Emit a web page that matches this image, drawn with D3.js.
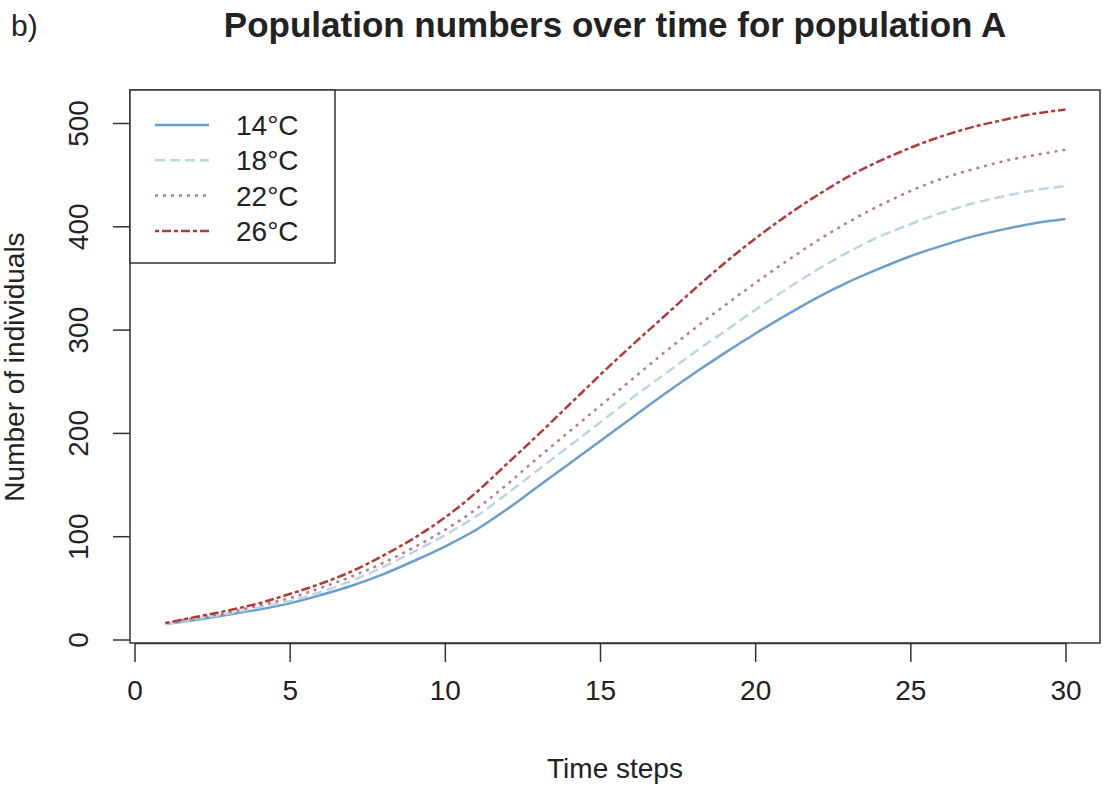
<!DOCTYPE html>
<html>
<head>
<meta charset="utf-8">
<title>Population numbers over time for population A</title>
<script src="https://d3js.org/d3.v7.min.js"></script>
<style>
  body { margin: 0; background: #fff; }
  svg text { font-family: "Liberation Sans", Arial, sans-serif; fill: #222; }
</style>
</head>
<body>
<div id="chart"></div>

<script>

// data
var timeSteps = [1, 2, 3, 4, 5, 6, 7, 8, 9, 10, 11, 12, 13, 14, 15,
                 16, 17, 18, 19, 20, 21, 22, 23, 24, 25, 26, 27, 28, 29, 30];

var pop14 = [15, 19, 24, 29, 35, 43, 52, 63, 76, 90, 106, 126, 148, 170, 192,
             214, 236, 257, 277, 296, 314, 331, 346, 359, 371, 381, 390, 397, 403, 407];
var pop18 = [15, 20, 25, 31, 37, 46, 57, 70, 85, 101, 119, 141, 164, 187, 210,
             233, 255, 277, 298, 319, 339, 358, 375, 390, 402, 413, 422, 429, 435, 439];
var pop22 = [16, 21, 26, 33, 40, 50, 61, 74, 89, 106, 126, 150, 176, 201, 226,
             251, 276, 300, 323, 345, 366, 386, 404, 420, 434, 446, 455, 463, 469, 474];
var pop26 = [16, 22, 28, 35, 44, 54, 66, 81, 98, 118, 142, 170, 198, 227, 256,
             284, 311, 338, 364, 388, 410, 430, 448, 463, 476, 487, 496, 503, 509, 513];

var seriesNames = ["14°C", "18°C", "22°C", "26°C"];
var seriesColors = ["#6a9ecb", "#bcd6df", "#b47f84", "#b23a3a"];
var seriesDash = ["none", "10,5", "3,5", "4,3,9,3"];

var xTicks = [0, 5, 10, 15, 20, 25, 30];
var yTicks = [0, 100, 200, 300, 400, 500];

var width = 1108;
var height = 799;

// plot box (R style)
var box = {left: 130, right: 1100, top: 90, bottom: 643};

var svg = d3.select("#chart")
	.append("svg")
		.attr("width", width)
		.attr("height", height);

var x = d3.scaleLinear()
	.domain([0, 30])
	.range([134.5, 1065.5]);

var y = d3.scaleLinear()
	.domain([0, 500])
	.range([639.5, 123]);

var series = [pop14, pop18, pop22, pop26].map(function(vals, i) {
	return {
		name: seriesNames[i],
		color: seriesColors[i],
		dash: seriesDash[i],
		values: timeSteps.map(function(t, j) { return {t: t, v: vals[j]}; })
	};
});

var line = d3.line()
	.curve(d3.curveMonotoneX)
	.x(function(d) { return x(d.t); })
	.y(function(d) { return y(d.v); });

svg.selectAll(".series")
	.data(series)
	.enter()
	.append("path")
		.attr("class", "series")
		.attr("d", function(d) { return line(d.values); })
		.attr("fill", "none")
		.attr("stroke", function(d) { return d.color; })
		.attr("stroke-width", 2.5)
		.attr("stroke-dasharray", function(d) { return d.dash; });

// axes
var xAxis = svg.append("g")
	.attr("transform", "translate(0," + box.bottom + ")")
	.call(d3.axisBottom(x).tickValues(xTicks).tickSize(19).tickSizeOuter(0).tickPadding(18));

xAxis.selectAll("text").style("font-size", "28px");

var yAxis = svg.append("g")
	.attr("transform", "translate(" + box.left + ",0)")
	.call(d3.axisLeft(y).tickValues(yTicks).tickSize(17).tickSizeOuter(0));

yAxis.select(".domain").remove();
yAxis.selectAll("text")
	.attr("transform", "rotate(-90)")
	.attr("x", 0)
	.attr("y", -(box.left - 88))
	.attr("dy", 0)
	.attr("text-anchor", "middle")
	.style("font-size", "28px");

svg.selectAll(".tick line, .domain")
	.attr("stroke", "#333")
	.attr("stroke-width", 1.5);

// box
svg.append("rect")
	.attr("x", box.left)
	.attr("y", box.top)
	.attr("width", box.right - box.left)
	.attr("height", box.bottom - box.top)
	.attr("fill", "none")
	.attr("stroke", "#333")
	.attr("stroke-width", 1.5);

// legend
var legend = svg.append("g");

legend.append("rect")
	.attr("x", box.left)
	.attr("y", box.top)
	.attr("width", 205)
	.attr("height", 173)
	.attr("fill", "#fff")
	.attr("stroke", "#333")
	.attr("stroke-width", 1.5);

var legendRows = legend.selectAll(".row")
	.data(series)
	.enter()
	.append("g")
		.attr("class", "row")
		.attr("transform", function(d, i) { return "translate(0," + (125 + i * 35.3) + ")"; });

legendRows.append("line")
	.attr("x1", 155)
	.attr("x2", 209)
	.attr("stroke", function(d) { return d.color; })
	.attr("stroke-width", 2.5)
	.attr("stroke-dasharray", function(d) { return d.dash; });

legendRows.append("text")
	.text(function(d) { return d.name; })
	.attr("x", 236)
	.attr("y", 10)
	.style("font-size", "28px");

// titles
svg.append("text")
	.text("Population numbers over time for population A")
	.attr("x", 615)
	.attr("y", 37)
	.attr("text-anchor", "middle")
	.style("font-size", "35px")
	.style("font-weight", "bold");

svg.append("text")
	.text("b)")
	.attr("x", 11)
	.attr("y", 36)
	.style("font-size", "30px");

svg.append("text")
	.text("Time steps")
	.attr("x", 615)
	.attr("y", 778)
	.attr("text-anchor", "middle")
	.style("font-size", "28px");

svg.append("text")
	.text("Number of individuals")
	.attr("transform", "translate(24,367) rotate(-90)")
	.attr("text-anchor", "middle")
	.style("font-size", "28px");

</script>
</body>
</html>
